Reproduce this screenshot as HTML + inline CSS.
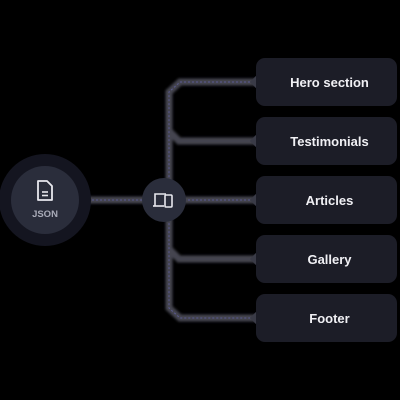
<!DOCTYPE html>
<html><head><style>
body{margin:0;width:400px;height:400px;background:#000;position:relative;overflow:hidden;font-family:"Liberation Sans",sans-serif}
.box{position:absolute;left:256px;width:141px;height:48px;background:#1c1d27;border-radius:9px;color:#f0f0f4;font-size:13px;font-weight:bold;display:flex;align-items:center;justify-content:center;padding-left:6px;box-sizing:border-box}
</style></head><body>
<svg width="400" height="400" style="position:absolute;left:0;top:0">
<defs><filter id="b"><feGaussianBlur stdDeviation="1.2"/></filter></defs>
<g stroke="#444550" stroke-width="7" fill="none" filter="url(#b)">
<line x1="80" y1="200" x2="258" y2="200"/>
<path d="M258 82 H180 L169 92 V308 L180 318 H258"/>
<path d="M169 131 L179 141 H258"/>
<path d="M169 249 L179 259 H258"/>
</g>
<g stroke="#5a5a90" stroke-width="1" stroke-dasharray="2 2" fill="none">
<line x1="80" y1="200" x2="258" y2="200"/>
<path d="M258 82 H180 L169 92 V308 L180 318 H258"/>
</g>
<g fill="#3a3b47">
<rect x="252" y="77" width="10" height="10" transform="rotate(45 257 82)"/>
<rect x="252" y="136" width="10" height="10" transform="rotate(45 257 141)"/>
<rect x="252" y="195" width="10" height="10" transform="rotate(45 257 200)"/>
<rect x="252" y="254" width="10" height="10" transform="rotate(45 257 259)"/>
<rect x="252" y="313" width="10" height="10" transform="rotate(45 257 318)"/>
</g>
<circle cx="45" cy="200" r="46" fill="#141520"/>
<circle cx="45" cy="200" r="34" fill="#2a2d3b"/>
<path d="M38 181 h9 l5 5 v14 h-14 z" fill="none" stroke="#e8e8ee" stroke-width="1.8" stroke-linejoin="round"/>
<line x1="42" y1="192" x2="48" y2="192" stroke="#e8e8ee" stroke-width="1.6"/>
<line x1="42" y1="195.5" x2="48" y2="195.5" stroke="#e8e8ee" stroke-width="1.6"/>
<text x="45" y="217" text-anchor="middle" font-family="Liberation Sans,sans-serif" font-size="9.5" font-weight="bold" fill="#a9abb8">JSON</text>
<circle cx="164" cy="200" r="22" fill="#2a2d3b"/>
<path d="M155 206 v-12 h11" fill="none" stroke="#e8e8ee" stroke-width="1.6"/>
<line x1="153" y1="206" x2="164" y2="206" stroke="#e8e8ee" stroke-width="1.6"/>
<rect x="165" y="195" width="7" height="12" rx="1" fill="none" stroke="#e8e8ee" stroke-width="1.6"/>
</svg>
<div class="box" style="top:58px">Hero section</div>
<div class="box" style="top:117px">Testimonials</div>
<div class="box" style="top:176px">Articles</div>
<div class="box" style="top:235px">Gallery</div>
<div class="box" style="top:294px">Footer</div>
</body></html>
